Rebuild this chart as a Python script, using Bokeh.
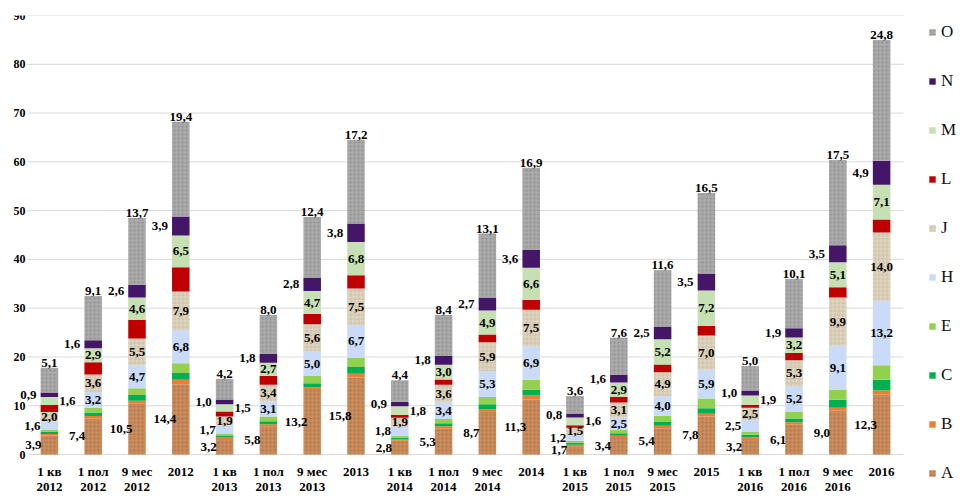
import numpy as np
from bokeh.plotting import figure
from bokeh.models import ColumnDataSource, Range1d, FixedTicker, Legend, LegendItem
from bokeh.core.properties import value
from bokeh.embed import file_html
from bokeh.resources import INLINE

categories = ["1 кв\n2012", "1 пол\n2012", "9 мес\n2012", "2012",
              "1 кв\n2013", "1 пол\n2013", "9 мес\n2013", "2013",
              "1 кв\n2014", "1 пол\n2014", "9 мес\n2014", "2014",
              "1 кв\n2015", "1 пол\n2015", "9 мес\n2015", "2015",
              "1 кв\n2016", "1 пол\n2016", "9 мес\n2016", "2016"]

A = [3.9, 7.4, 10.5, 14.4, 3.2, 5.8, 13.2, 15.8, 2.8, 5.3, 8.7, 11.3, 1.7, 3.4, 5.4, 7.8, 3.2, 6.1, 9.0, 12.3]
B = [0.3, 0.5, 0.5, 0.9, 0.3, 0.4, 0.6, 0.75, 0.3, 0.5, 0.5, 0.8, 0.3, 0.45, 0.5, 0.55, 0.35, 0.5, 0.6, 0.8]
C = [0.5, 0.7, 1.2, 1.4, 0.3, 0.6, 0.8, 1.4, 0.35, 0.6, 1.1, 1.2, 0.4, 0.5, 0.75, 1.15, 0.5, 0.8, 1.6, 2.2]
E = [0.4, 1.0, 1.4, 2.0, 0.4, 1.0, 1.5, 1.9, 0.4, 0.9, 1.5, 2.0, 0.4, 0.7, 1.3, 2.0, 0.55, 1.4, 2.0, 3.0]
H = [1.6, 3.2, 4.7, 6.8, 1.7, 3.1, 5.0, 6.7, 1.8, 3.4, 5.3, 6.9, 1.2, 2.5, 4.0, 5.9, 2.5, 5.2, 9.1, 13.2]
J = [2.0, 3.6, 5.5, 7.9, 1.9, 3.4, 5.6, 7.5, 1.9, 3.6, 5.9, 7.5, 1.5, 3.1, 4.9, 7.0, 2.5, 5.3, 9.9, 14.0]
L = [1.5, 2.5, 3.8, 5.0, 1.0, 1.8, 2.1, 2.7, 0.55, 1.1, 1.6, 2.0, 0.5, 1.2, 1.6, 2.0, 0.6, 1.5, 2.1, 2.7]
M = [1.6, 2.9, 4.6, 6.5, 1.5, 2.7, 4.7, 6.8, 1.8, 3.0, 4.9, 6.6, 1.6, 2.9, 5.2, 7.2, 1.9, 3.2, 5.1, 7.1]
N = [0.9, 1.6, 2.6, 3.9, 1.0, 1.8, 2.8, 3.8, 0.9, 1.8, 2.7, 3.6, 0.8, 1.6, 2.5, 3.5, 1.0, 1.9, 3.5, 4.9]
O = [5.1, 9.1, 13.7, 19.4, 4.2, 8.0, 12.4, 17.2, 4.4, 8.4, 13.1, 16.9, 3.6, 7.6, 11.6, 16.5, 5.0, 10.1, 17.5, 24.8]

series_names = ["A", "B", "C", "E", "H", "J", "L", "M", "N", "O"]
series_vals = [A, B, C, E, H, J, L, M, N, O]
labeled = ["A", "H", "J", "M", "N", "O"]
y_ticks = [0, 10, 20, 30, 40, 50, 60, 70, 80, 90]

colors = {"A": "#C98B5B", "B": "#ED7D31", "C": "#00B050", "E": "#92D050",
          "H": "#C9DBF7", "J": "#DED4C0", "L": "#C00000", "M": "#C6E0B4",
          "N": "#441668", "O": "#A9A9A9"}
hatches = {"A": ("dot", "#8A5630"), "J": ("cross", "#C4B596"), "O": ("dot", "#6E6E6E")}

SERIF = "Liberation Serif"
n_cat = len(categories)
CAT_PX = 43.8
W, HGT = 960, 497
RIGHT, TOP, BOTTOM = 0, 15, 2
PLOT_LEFT = 27          # where the category area starts (px from figure left)
FRAME_W = W - RIGHT
FRAME_H = HGT - TOP - BOTTOM
PX_PER_UNIT = 439 / 90.0
Y_MIN = -(FRAME_H - 439) / PX_PER_UNIT
X_MIN = -0.5 - PLOT_LEFT / CAT_PX

p = figure(width=W, height=HGT, output_backend="svg", toolbar_location=None,
           x_range=Range1d(X_MIN, X_MIN + FRAME_W / CAT_PX), y_range=Range1d(Y_MIN, 90),
           min_border_left=0, min_border_right=RIGHT, min_border_top=TOP, min_border_bottom=BOTTOM)
p.outline_line_color = None
p.background_fill_color = "white"
p.border_fill_color = "white"

xs = list(range(n_cat))

# horizontal grid lines limited to the category area
p.segment(x0=[-0.5] * len(y_ticks), x1=[n_cat - 0.5] * len(y_ticks), y0=y_ticks, y1=y_ticks,
          line_color="#D9D9D9", line_width=1)

arr = np.array(series_vals, dtype=float)
tops = np.cumsum(arr, axis=0)
bottoms = tops - arr

renderers = {}
for i, n in enumerate(series_names):
    kw = {}
    if n in hatches:
        kw = dict(hatch_pattern=hatches[n][0], hatch_color=hatches[n][1],
                  hatch_alpha=0.45, hatch_scale=4, hatch_weight=1)
    s = ColumnDataSource(dict(x=xs, bottom=bottoms[i], top=tops[i]))
    r = p.vbar(x="x", width=0.4, bottom="bottom", top="top", source=s,
               fill_color=colors[n], line_color=None, **kw)
    renderers[n] = r

# data labels
for n in labeled:
    i = series_names.index(n)
    vals = arr[i]
    lx, ly, txt, xo, yo = [], [], [], [], []
    for k in xs:
        quarter = (k % 4 == 0)
        v = vals[k]
        x_off, y_off = 0, 0
        y = bottoms[i][k] + v / 2
        if n == "A":
            x_off = -16
        elif n == "H" and quarter:
            x_off = -17
        elif n == "M" and quarter:
            x_off = 18
        elif n == "N":
            x_off = -21
        elif n == "O":
            y = tops[i][k]
            y_off = -5
        lx.append(k)
        ly.append(y)
        txt.append(f"{v:.1f}".replace(".", ","))
        xo.append(x_off)
        yo.append(y_off)
    ls = ColumnDataSource(dict(x=lx, y=ly, t=txt, xo=xo, yo=yo))
    p.text(x="x", y="y", text="t", source=ls, x_offset="xo", y_offset="yo",
           text_align="center", text_baseline="middle",
           text_font=value(SERIF), text_font_style="bold",
           text_font_size="13px", text_color="black")

# axes (drawn at fixed positions inside the frame)
p.xaxis.fixed_location = 0
p.xaxis.ticker = FixedTicker(ticks=xs)
p.xaxis.major_label_overrides = {k: c for k, c in zip(xs, categories)}
p.xaxis.major_label_text_font = SERIF
p.xaxis.major_label_text_font_style = "bold"
p.xaxis.major_label_text_font_size = "13px"
p.xaxis.major_label_text_line_height = 1.0
p.xaxis.major_label_text_color = "black"
p.xaxis.major_label_standoff = 3
p.xaxis.axis_line_color = None
p.xaxis.major_tick_line_color = None
p.xaxis.minor_tick_line_color = None

p.yaxis.fixed_location = -0.5 + 8 / CAT_PX
p.yaxis.ticker = FixedTicker(ticks=y_ticks)
p.yaxis.major_label_text_font = SERIF
p.yaxis.major_label_text_font_style = "bold"
p.yaxis.major_label_text_font_size = "12px"
p.yaxis.major_label_text_color = "black"
p.yaxis.major_label_standoff = 4
p.yaxis.axis_line_color = None
p.yaxis.major_tick_line_color = None
p.yaxis.minor_tick_line_color = None

p.xgrid.grid_line_color = None
p.ygrid.grid_line_color = None

legend_h = 10 * 20 + 9 * 29
items = [LegendItem(label=n, renderers=[renderers[n]]) for n in reversed(series_names)]
legend = Legend(items=items, location=(928, FRAME_H - (22 - TOP) - legend_h),
                orientation="vertical",
                glyph_width=8, glyph_height=8, label_height=20, spacing=29,
                padding=0, margin=0, label_standoff=5,
                label_text_font=SERIF, label_text_font_size="17px",
                label_text_color="#111111", border_line_color=None,
                background_fill_alpha=0)
p.add_layout(legend)

open("out.html", "w").write(file_html(p, INLINE))
